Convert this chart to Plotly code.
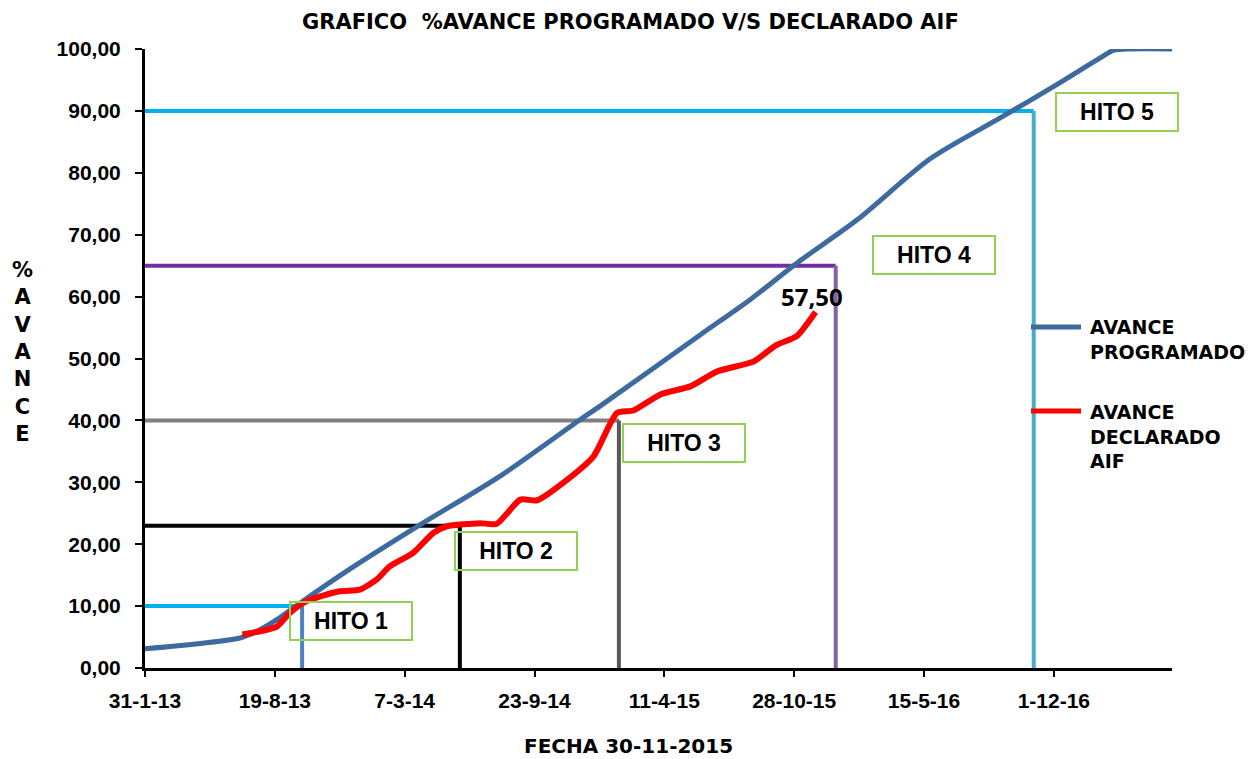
import plotly.graph_objects as go

# ---------------- DATA ----------------
prog_name = "AVANCE<br>PROGRAMADO"
prog_dates = ["2013-01-31", "2013-06-26", "2013-07-22", "2013-08-22", "2013-09-27",
              "2013-12-13", "2014-03-31", "2014-08-01", "2014-12-02", "2015-01-02",
              "2015-06-05", "2015-08-21", "2015-11-01", "2016-02-02", "2016-05-25",
              "2016-09-10", "2016-12-08", "2017-02-11", "2017-03-03", "2017-03-29",
              "2017-06-01"]
prog_vals = [3.1, 4.85, 5.9, 7.8, 10.5, 16.0, 23.15, 31.0, 40.1, 42.3,
             53.8, 59.5, 65.4, 72.4, 82.3, 88.9, 94.4, 98.6, 99.8, 100.0, 100.0]

decl_name = "AVANCE<br>DECLARADO<br>AIF"
decl_dates = ["2013-06-30", "2013-08-22", "2013-09-11", "2013-10-07", "2013-11-27",
              "2013-12-28", "2014-01-23", "2014-02-12", "2014-03-20", "2014-04-20",
              "2014-05-11", "2014-07-01", "2014-07-27", "2014-09-01", "2014-09-27",
              "2014-11-12", "2014-12-23", "2015-01-28", "2015-02-22", "2015-04-05",
              "2015-05-21", "2015-07-01", "2015-08-26", "2015-10-01", "2015-11-01",
              "2015-11-30"]
decl_vals = [5.4, 6.7, 8.9, 10.8, 12.4, 12.65, 14.3, 16.4, 18.6, 21.8,
             22.9, 23.4, 23.3, 27.2, 27.1, 30.4, 34.2, 41.2, 41.6, 44.2,
             45.5, 47.9, 49.5, 52.2, 53.6, 57.5]

hito_names = ["HITO 1", "HITO 2", "HITO 3", "HITO 4", "HITO 5"]
hito_dates = ["2013-09-30", "2014-05-31", "2015-01-31", "2015-12-31", "2016-10-31"]
hito_vals = [10, 23, 40, 65, 90]

tick_dates = ["2013-01-31", "2013-08-19", "2014-03-07", "2014-09-23",
              "2015-04-11", "2015-10-28", "2016-05-15", "2016-12-01"]
tick_labels = ["31-1-13", "19-8-13", "7-3-14", "23-9-14",
               "11-4-15", "28-10-15", "15-5-16", "1-12-16"]

x_start = "2013-01-31"
x_end = "2017-06-01"

# ---------------- STYLE ----------------
hito_hcolors = ["#00B0F0", "#000000", "#808080", "#7030A0", "#00B0F0"]
hito_vcolors = ["#4F81BD", "#000000", "#595959", "#8064A2", "#4BACC6"]
hito_label_pos = [("2013-12-15", 7.64), ("2014-08-25", 18.84), ("2015-05-11", 36.4),
                  ("2016-05-30", 66.8), ("2017-03-09", 89.9)]
prog_color = "#3D6A9F"
decl_color = "#FF0000"
gothic = "DejaVu Sans"
arial = "Liberation Sans"

fig = go.Figure()

shapes = []
for d, v, hc, vc in zip(hito_dates, hito_vals, hito_hcolors, hito_vcolors):
    shapes.append(dict(type="line", xref="x", yref="y", x0=x_start, x1=d, y0=v, y1=v,
                       line=dict(color=hc, width=4), layer="below"))
    shapes.append(dict(type="line", xref="x", yref="y", x0=d, x1=d, y0=0, y1=v,
                       line=dict(color=vc, width=4), layer="below"))

fig.add_trace(go.Scatter(x=prog_dates, y=prog_vals, mode="lines", name=prog_name,
                         line=dict(color=prog_color, width=5, shape="spline", smoothing=0.8),
                         cliponaxis=False, showlegend=False))
fig.add_trace(go.Scatter(x=decl_dates, y=decl_vals, mode="lines", name=decl_name,
                         line=dict(color=decl_color, width=6, shape="spline", smoothing=0.6),
                         cliponaxis=False, showlegend=False))

annotations = []
for name, (lx, ly) in zip(hito_names, hito_label_pos):
    annotations.append(dict(x=lx, y=ly, xref="x", yref="y", text=name, showarrow=False,
                            font=dict(family=arial, size=23, color="black", weight="bold"),
                            width=118, height=34, borderpad=1,
                            bordercolor="#92D050", borderwidth=2,
                            xanchor="center", yanchor="middle"))

# data label of last declared value
annotations.append(dict(x=decl_dates[-1], y=decl_vals[-1], xref="x", yref="y",
                        text=f"{decl_vals[-1]:.2f}".replace(".", ","), showarrow=False,
                        xshift=-4, yshift=16, xanchor="center", yanchor="middle",
                        font=dict(family="Open Sans", size=24, color="black", weight="bold")))

# custom legend
def px2paper_x(px):
    return (px - 145) / 1027.0

def px2paper_y(py):
    return (668 - py) / 619.0

for name, color, ly, ty in [(prog_name, prog_color, 327, 339.5),
                            (decl_name, decl_color, 411, 436)]:
    shapes.append(dict(type="line", xref="paper", yref="paper",
                       x0=px2paper_x(1031), x1=px2paper_x(1081),
                       y0=px2paper_y(ly), y1=px2paper_y(ly),
                       line=dict(color=color, width=5)))
    annotations.append(dict(x=px2paper_x(1088), y=px2paper_y(ty), xref="paper", yref="paper",
                            text=name, showarrow=False, align="left",
                            xanchor="left", yanchor="middle",
                            font=dict(family=gothic, size=19, color="black", weight="bold")))

# y-axis title (stacked letters)
annotations.append(dict(x=px2paper_x(22), y=px2paper_y(352), xref="paper", yref="paper",
                        text="<br>".join(list("%AVANCE")), showarrow=False, align="center",
                        xanchor="center", yanchor="middle",
                        font=dict(family=gothic, size=21, color="black", weight="bold")))
# x-axis title
annotations.append(dict(x=px2paper_x(628), y=px2paper_y(746), xref="paper", yref="paper",
                        text="FECHA 30-11-2015", showarrow=False,
                        xanchor="center", yanchor="middle",
                        font=dict(family=gothic, size=20, color="black", weight="bold")))
# title
annotations.append(dict(x=px2paper_x(630), y=px2paper_y(22), xref="paper", yref="paper",
                        text="GRAFICO  %AVANCE PROGRAMADO V/S DECLARADO AIF", showarrow=False,
                        xanchor="center", yanchor="middle",
                        font=dict(family=gothic, size=21, color="black", weight="bold")))

fig.update_layout(
    width=1255, height=759,
    margin=dict(l=145, r=83, t=49, b=91),
    paper_bgcolor="white", plot_bgcolor="white",
    separators=", ",
    shapes=shapes, annotations=annotations,
    showlegend=False,
)
fig.update_xaxes(type="date", range=[x_start, x_end], tickvals=tick_dates, ticktext=tick_labels,
                 showgrid=False, zeroline=False, showline=True, linecolor="black", linewidth=3,
                 ticks="outside", ticklen=6, tickwidth=2, tickcolor="black",
                 tickfont=dict(family=arial, size=21, color="black", weight="bold"),
                 ticklabelstandoff=6)
fig.update_yaxes(range=[0, 100], dtick=10, tick0=0, tickformat=".2f",
                 showgrid=False, zeroline=False, showline=True, linecolor="black", linewidth=3,
                 ticks="outside", ticklen=7, tickwidth=2, tickcolor="black",
                 tickfont=dict(family=arial, size=21, color="black", weight="bold"),
                 ticklabelstandoff=10)

fig.write_html("out.html", config={"displayModeBar": False},
               post_script="document.body.style.margin='0';document.body.style.overflow='hidden';")
